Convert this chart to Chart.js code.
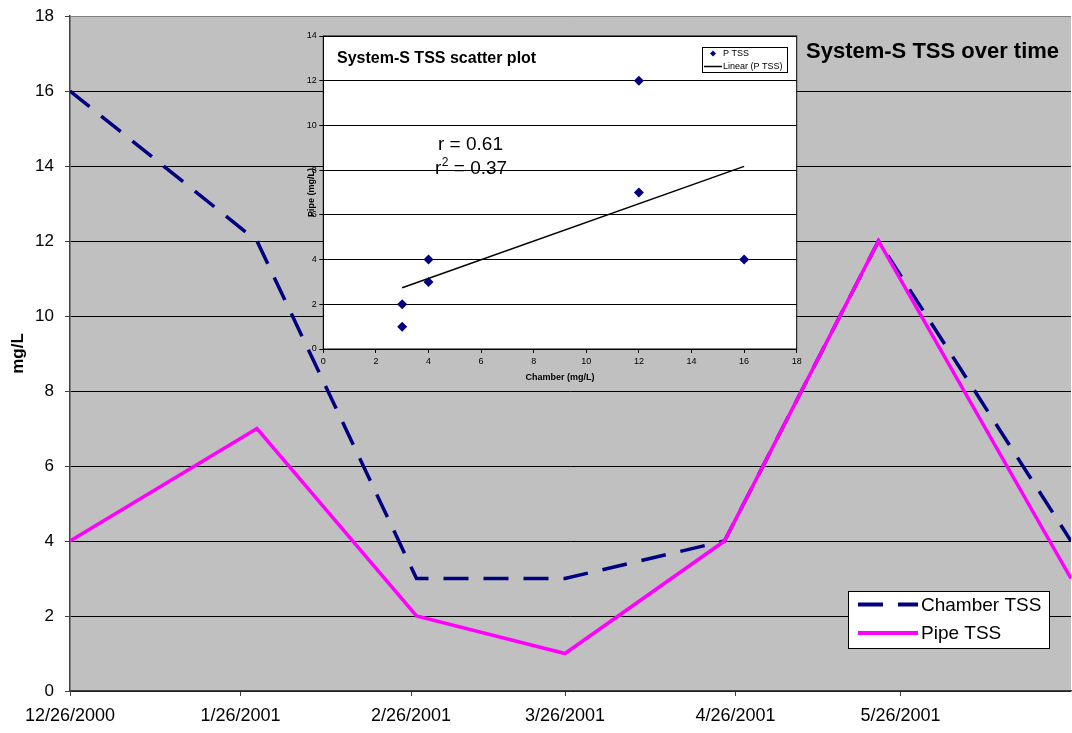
<!DOCTYPE html>
<html><head><meta charset="utf-8">
<script src="https://cdn.jsdelivr.net/npm/chart.js@4.4.0/dist/chart.umd.min.js"></script>
<style>
html,body{margin:0;padding:0;background:#fff;}
#wrap{position:relative;width:1072px;height:733px;overflow:hidden;}
#main{position:absolute;left:0;top:0;}
#inset{position:absolute;left:290px;top:25px;}
</style></head><body>
<div id="wrap"><canvas id="main" width="1072" height="733"></canvas><canvas id="inset" width="520" height="370"></canvas></div>
<script>
// ---- data ----
const sampleDates = ['12/26/2000','1/29/2001','2/27/2001','3/26/2001','4/24/2001','5/22/2001','6/26/2001'];
const chamberTSS = [16, 12, 3, 3, 4, 12, 4];
const pipeTSS = [4, 7, 2, 1, 4, 12, 3];
const seriesNames = ['Chamber TSS', 'Pipe TSS'];
const xTickLabels = ['12/26/2000','1/26/2001','2/26/2001','3/26/2001','4/26/2001','5/26/2001'];
const yMainMax = 18, yMainStep = 2;
const mainTitle = 'System-S TSS over time';
const mainYTitle = 'mg/L';

const insetTitle = 'System-S TSS scatter plot';
const scatterName = 'P TSS';
const trendName = 'Linear (P TSS)';
const trendX = [3, 16];
const trendY = [2.74, 8.17];
const insetXTitle = 'Chamber (mg/L)';
const insetYTitle = 'Pipe (mg/L)';
const rLabel = 'r = 0.61';
const r2Value = ' = 0.37';

const FONT = "'Liberation Sans', Arial, Helvetica, sans-serif";
function dayOffset(s){
  const p = s.split('/').map(Number);
  const b = sampleDates[0].split('/').map(Number);
  return (Date.UTC(p[2], p[0]-1, p[1]) - Date.UTC(b[2], b[0]-1, b[1])) / 86400000;
}
function noPad(s){ s.paddingTop = 0; s.paddingBottom = 0; s.paddingLeft = 0; s.paddingRight = 0; }

const areaBg = {
  id: 'areaBg',
  beforeDraw(chart, args, opts){
    const a = chart.chartArea, ctx = chart.ctx;
    ctx.save(); ctx.fillStyle = opts.color;
    ctx.fillRect(a.left, a.top, a.right - a.left, a.bottom - a.top);
    ctx.restore();
  }
};

const mainDecor = {
  id: 'mainDecor',
  afterDraw(chart){
    const ctx = chart.ctx;
    ctx.save();
    ctx.fillStyle = '#000';
    ctx.font = 'bold 22px ' + FONT;
    ctx.textBaseline = 'alphabetic';
    ctx.textAlign = 'left';
    ctx.fillText(mainTitle, 806, 58);
    // legend
    const bx = 848, by = 591, bw = 201, bh = 57;
    ctx.fillStyle = '#fff';
    ctx.fillRect(bx, by, bw, bh);
    ctx.strokeStyle = '#000'; ctx.lineWidth = 1;
    ctx.strokeRect(bx + 0.5, by + 0.5, bw, bh);
    const rows = [604.5, 633];
    chart.data.datasets.forEach((ds, i) => {
      const y = rows[i];
      ctx.beginPath();
      ctx.strokeStyle = ds.borderColor; ctx.lineWidth = 4;
      ctx.setLineDash(ds.borderDash || []);
      ctx.moveTo(858, y); ctx.lineTo(918, y); ctx.stroke();
      ctx.setLineDash([]);
      ctx.fillStyle = '#000';
      ctx.font = '19px ' + FONT;
      ctx.textBaseline = 'middle';
      ctx.fillText(ds.label, 921, y + 1);
    });
    ctx.restore();
  }
};

const mainChart = new Chart(document.getElementById('main'), {
  type: 'line',
  data: {
    datasets: [
      { label: seriesNames[0], data: sampleDates.map((d, i) => ({x: dayOffset(d), y: chamberTSS[i]})),
        borderColor: '#000080', borderWidth: 3.5, borderDash: [25, 15], pointRadius: 0, tension: 0, fill: false, order: 2 },
      { label: seriesNames[1], data: sampleDates.map((d, i) => ({x: dayOffset(d), y: pipeTSS[i]})),
        borderColor: '#FF00FF', borderWidth: 3.5, pointRadius: 0, tension: 0, fill: false, order: 1 }
    ]
  },
  options: {
    responsive: false, animation: false, devicePixelRatio: 1,
    layout: { padding: { left: 0, top: 16, right: 1, bottom: 0 } },
    plugins: { legend: { display: false }, tooltip: { enabled: false }, areaBg: { color: '#C0C0C0' } },
    scales: {
      x: {
        type: 'linear', min: 0, max: dayOffset(sampleDates[sampleDates.length - 1]),
        afterBuildTicks: s => { s.ticks = xTickLabels.map(l => ({ value: dayOffset(l) })); },
        ticks: { callback: (v, i) => xTickLabels[i], font: { family: FONT, size: 18 }, color: '#000',
                 padding: 9, maxRotation: 0, autoSkip: false },
        grid: { drawOnChartArea: false, drawTicks: true, tickLength: 5, tickColor: '#404040' },
        border: { color: '#404040', width: 1.5 },
        afterFit: s => { s.height = 42; noPad(s); }
      },
      y: {
        min: 0, max: yMainMax,
        ticks: { stepSize: yMainStep, font: { family: FONT, size: 17 }, color: '#000', padding: 11 },
        grid: { color: c => (c.tick && c.tick.value === yMainMax) ? '#808080' : '#000', lineWidth: 1,
                tickLength: 5, tickColor: '#404040' },
        border: { color: '#404040', width: 1.5 },
        title: { display: true, text: mainYTitle, color: '#000', font: { family: FONT, size: 17, weight: 'bold' },
                 padding: { top: 8, bottom: 0 } },
        afterFit: s => { s.width = 70; noPad(s); }
      }
    }
  },
  plugins: [areaBg, mainDecor]
});

const insetDecor = {
  id: 'insetDecor',
  afterDraw(chart){
    const ctx = chart.ctx, a = chart.chartArea;
    ctx.save();
    ctx.strokeStyle = '#000'; ctx.lineWidth = 1;
    ctx.strokeRect(a.left, a.top, a.right - a.left, a.bottom - a.top);
    ctx.fillStyle = '#000';
    ctx.textAlign = 'left'; ctx.textBaseline = 'alphabetic';
    ctx.font = 'bold 16px ' + FONT;
    ctx.fillText(insetTitle, 47, 38);
    // r text
    ctx.font = '19px ' + FONT;
    ctx.fillText(rLabel, 148, 125);
    ctx.fillText('r', 145, 149);
    const rw = ctx.measureText('r').width;
    ctx.font = '12px ' + FONT;
    ctx.fillText('2', 145 + rw + 0.5, 141);
    const w2 = ctx.measureText('2').width;
    ctx.font = '19px ' + FONT;
    ctx.fillText(r2Value, 145 + rw + 0.5 + w2, 149);
    // legend
    const lx = 412, ly = 22, lw = 85, lh = 25;
    ctx.fillStyle = '#fff'; ctx.fillRect(lx, ly, lw, lh);
    ctx.strokeStyle = '#000'; ctx.lineWidth = 1;
    ctx.strokeRect(lx + 0.5, ly + 0.5, lw, lh);
    const ds0 = chart.data.datasets[0], ds1 = chart.data.datasets[1];
    ctx.fillStyle = ds0.backgroundColor;
    ctx.beginPath();
    const cx = 423, cy = 28.5, r = 3;
    ctx.moveTo(cx, cy - r); ctx.lineTo(cx + r, cy); ctx.lineTo(cx, cy + r); ctx.lineTo(cx - r, cy); ctx.closePath(); ctx.fill();
    ctx.beginPath(); ctx.strokeStyle = ds1.borderColor; ctx.lineWidth = 1.5;
    ctx.moveTo(414, 41.5); ctx.lineTo(432, 41.5); ctx.stroke();
    ctx.fillStyle = '#000'; ctx.font = '9px ' + FONT; ctx.textBaseline = 'middle';
    ctx.fillText(ds0.label, 433, 29);
    ctx.fillText(ds1.label, 433, 42);
    ctx.restore();
  }
};

const insetChart = new Chart(document.getElementById('inset'), {
  type: 'scatter',
  data: {
    datasets: [
      { label: scatterName, data: chamberTSS.map((c, i) => ({x: c, y: pipeTSS[i]})),
        pointStyle: 'rectRot', pointRadius: 5, backgroundColor: '#000080', borderColor: '#000080', borderWidth: 0,
        showLine: false, order: 1 },
      { label: trendName, data: trendX.map((x, i) => ({x: x, y: trendY[i]})),
        showLine: true, borderColor: '#000', borderWidth: 1.5, pointRadius: 0, backgroundColor: '#000', fill: false, order: 2 }
    ]
  },
  options: {
    responsive: false, animation: false, devicePixelRatio: 1,
    layout: { padding: { left: 0, top: 11, right: 13.3, bottom: 0 } },
    plugins: { legend: { display: false }, tooltip: { enabled: false }, areaBg: { color: '#FFFFFF' } },
    scales: {
      x: {
        type: 'linear', min: 0, max: 18,
        ticks: { stepSize: 2, font: { family: FONT, size: 9 }, color: '#000', padding: 3, maxRotation: 0 },
        grid: { drawOnChartArea: false, drawTicks: true, tickLength: 4, tickColor: '#000' },
        border: { color: '#000', width: 1 },
        title: { display: true, text: insetXTitle, color: '#000', font: { family: FONT, size: 9, weight: 'bold' },
                 padding: { top: 0, bottom: 12 } },
        afterFit: s => { s.height = 46; noPad(s); }
      },
      y: {
        min: 0, max: 14,
        ticks: { stepSize: 2, font: { family: FONT, size: 9 }, color: '#000', padding: 2.5 },
        grid: { color: '#000', lineWidth: 1, tickLength: 4, tickColor: '#000' },
        border: { color: '#000', width: 1 },
        title: { display: true, text: insetYTitle, color: '#000', font: { family: FONT, size: 9, weight: 'bold' },
                 padding: { top: 16, bottom: 0 } },
        afterFit: s => { s.width = 33.3; noPad(s); }
      }
    }
  },
  plugins: [areaBg, insetDecor]
});
</script>
</body></html>
